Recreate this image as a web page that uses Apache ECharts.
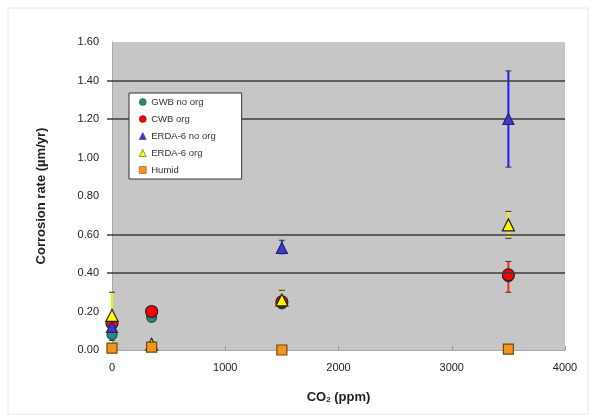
<!DOCTYPE html>
<html>
<head>
<meta charset="utf-8">
<script src="https://cdn.jsdelivr.net/npm/echarts@6/dist/echarts.min.js"></script>
<style>
html,body{margin:0;padding:0;background:#fff;}
#c{width:593px;height:418px;}
</style>
</head>
<body>
<div id="c"></div>
<script>
// ---- data ----
var co2 = [0, 350, 1500, 3500];
var seriesNames = ['GWB no org', 'CWB org', 'ERDA-6 no org', 'ERDA-6 org', 'Humid'];
var gwbNoOrg   = [0.08, 0.17, 0.24, 0.38];
var cwbOrg     = [0.14, 0.20, 0.25, 0.39];
var erdaNoOrg  = [0.12, null, 0.53, 1.20];
var erdaOrg    = [0.18, 0.03, 0.26, 0.65];
var humid      = [0.01, 0.015, 0.00, 0.005];
// error bars (low / high), null = none
var cwbOrgLow     = [0.05, null, null, 0.30];
var cwbOrgHigh    = [0.14, null, null, 0.46];
var erdaNoOrgLow  = [null, null, 0.50, 0.95];
var erdaNoOrgHigh = [null, null, 0.57, 1.45];
var erdaOrgLow    = [0.18, null, 0.22, 0.58];
var erdaOrgHigh   = [0.30, null, 0.31, 0.72];
var yTicks = [0, 0.2, 0.4, 0.6, 0.8, 1.0, 1.2, 1.4, 1.6];
var xTicks = [0, 1000, 2000, 3000, 4000];
var gridValues = [0.4, 0.6, 1.2, 1.4];

function pts(vals) {
  var out = [];
  for (var i = 0; i < co2.length; i++) if (vals[i] != null) out.push([co2[i], vals[i]]);
  return out;
}
function errs(lo, hi) {
  var out = [];
  for (var i = 0; i < co2.length; i++) if (lo[i] != null) out.push([co2[i], lo[i], hi[i]]);
  return out;
}
function errSeries(lo, hi, color) {
  return {
    type: 'custom', silent: true, z: 1, clip: false,
    data: errs(lo, hi),
    renderItem: function (params, api) {
      var x = api.value(0);
      var a = api.coord([x, api.value(1)]);
      var b = api.coord([x, api.value(2)]);
      var w = 3;
      var st = { stroke: color, lineWidth: 2 };
      return { type: 'group', children: [
        { type: 'line', shape: { x1: a[0], y1: a[1], x2: b[0], y2: b[1] }, style: st },
        { type: 'line', shape: { x1: a[0] - w, y1: a[1], x2: a[0] + w, y2: a[1] }, style: { stroke: '#333', lineWidth: 1 } },
        { type: 'line', shape: { x1: b[0] - w, y1: b[1], x2: b[0] + w, y2: b[1] }, style: { stroke: '#333', lineWidth: 1 } }
      ]};
    }
  };
}

var colors = ['#2a8a78', '#ff0000', '#3a3ad0', '#ffff00', '#f7941d'];
var borders = ['#1d4f45', '#222222', '#22226a', '#222222', '#6b4a10'];
var symbols = ['circle', 'circle', 'triangle', 'triangle', 'rect'];
var vals = [gwbNoOrg, cwbOrg, erdaNoOrg, erdaOrg, humid];
var sizes = [10, 12, 11, 12, 10];

var series = [
  errSeries(cwbOrgLow, cwbOrgHigh, '#ff2020'),
  errSeries(erdaNoOrgLow, erdaNoOrgHigh, '#1a1aff'),
  errSeries(erdaOrgLow, erdaOrgHigh, '#f0f000'),
  {
    type: 'line', silent: true, data: [], z: 0,
    markLine: {
      silent: true, symbol: 'none', label: { show: false },
      lineStyle: { color: '#3c3c3c', width: 1.5, type: 'solid' },
      data: gridValues.map(function (v) { return { yAxis: v }; })
    }
  }
];
for (var i = 0; i < seriesNames.length; i++) {
  series.push({
    name: seriesNames[i], type: 'scatter', symbol: symbols[i], symbolSize: sizes[i],
    clip: false, z: 3 + i,
    itemStyle: { color: colors[i], borderColor: borders[i], borderWidth: 1.2, opacity: 1 },
    data: pts(vals[i])
  });
}

var chart = echarts.init(document.getElementById('c'), null, { renderer: 'canvas' });
chart.setOption({
  backgroundColor: '#ffffff',
  animation: false,
  textStyle: { fontFamily: 'Liberation Sans, Arial, sans-serif' },
  graphic: [{
    type: 'rect', shape: { x: 8, y: 8, width: 580, height: 406 },
    style: { fill: 'none', stroke: '#e6e6e6', lineWidth: 1 }, z: -10, silent: true
  }],
  grid: { left: 112, right: 28, top: 42, bottom: 68, show: true, backgroundColor: '#c6c6c6', borderWidth: 0 },
  legend: {
    orient: 'vertical', left: 129, top: 93, zlevel: 2, z: 20,
    backgroundColor: '#ffffff', borderColor: '#333', borderWidth: 1,
    padding: [4, 26, 4, 10], itemGap: 7, itemWidth: 7, itemHeight: 7,
    textStyle: { fontSize: 9.5, color: '#333' },
    data: seriesNames.map(function (n, i) {
      return { name: n, icon: symbols[i], itemStyle: { color: colors[i], borderColor: borders[i], borderWidth: 0.5 } };
    })
  },
  xAxis: {
    type: 'value', min: 0, max: 4000, interval: 1000,
    name: '{a|CO}{s|2}{a| (ppm)}', nameLocation: 'middle', nameGap: 40,
    nameTextStyle: { rich: {
      a: { fontSize: 13, fontWeight: 'bold', color: '#222', fontFamily: 'Liberation Sans' },
      s: { fontSize: 8, fontWeight: 'bold', color: '#222', verticalAlign: 'bottom', padding: [6, 0, 0, 0], fontFamily: 'Liberation Sans' }
    } },
    axisLine: { show: true, lineStyle: { color: '#a8a8a8' } },
    axisTick: { show: true, inside: true, length: 4, lineStyle: { color: '#999' } },
    axisLabel: { fontSize: 11, color: '#222', margin: 12,
      formatter: function (v) { return xTicks.indexOf(v) >= 0 ? String(v) : ''; } },
    splitLine: { show: false }
  },
  yAxis: {
    type: 'value', min: 0, max: 1.6, interval: 0.2,
    name: 'Corrosion rate (µm/yr)', nameLocation: 'middle', nameGap: 64,
    nameTextStyle: { fontSize: 13, fontWeight: 'bold', color: '#222' },
    axisLine: { show: true, lineStyle: { color: '#a8a8a8' } },
    axisTick: { show: true, length: 5, customValues: gridValues, lineStyle: { color: '#3c3c3c', width: 1.5 } },
    axisLabel: { fontSize: 11, color: '#222', margin: 13,
      formatter: function (v) { return v.toFixed(2); } },
    splitLine: { show: false }
  },
  series: series
});
</script>
</body>
</html>
